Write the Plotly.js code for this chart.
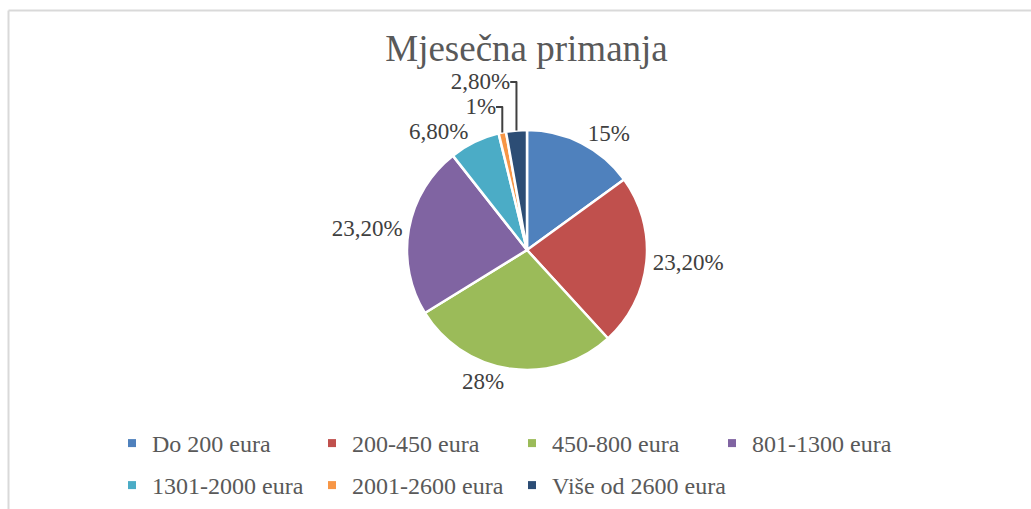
<!DOCTYPE html>
<html>
<head>
<meta charset="utf-8">
<script src="https://cdn.plot.ly/plotly-3.0.1.min.js"></script>
<style>html,body{margin:0;padding:0;background:#fff;}#chart{width:1031px;height:509px;}</style>
</head>
<body>
<div id="chart"></div>
<script>
const categories = ["Do 200 eura", "200-450 eura", "450-800 eura", "801-1300 eura", "1301-2000 eura", "2001-2600 eura", "Više od 2600 eura"];
const shares = [15, 23.2, 28, 23.2, 6.8, 1, 2.8];
const shareLabels = ["15%", "23,20%", "28%", "23,20%", "6,80%", "1%", "2,80%"];
const sliceColors = ["#4F81BD", "#C0504D", "#9BBB59", "#8064A2", "#4BACC6", "#F79646", "#2C4D75"];
const legendGroupOf = ["legend", "legend", "legend", "legend", "legend2", "legend2", "legend3"];

const W = 1031, H = 509;
const SERIF = "'Liberation Serif', 'Times New Roman', serif";

const pie = {
  type: "pie",
  labels: categories,
  values: shares,
  text: shareLabels,
  textinfo: "text",
  textposition: "outside",
  automargin: false,
  sort: false,
  direction: "clockwise",
  rotation: 0,
  showlegend: false,
  marker: {colors: sliceColors, line: {color: "#ffffff", width: 2.5}},
  textfont: {family: SERIF, size: 23, color: "#404040"},
  outsidetextfont: {family: SERIF, size: 23, color: "#404040"},
  domain: {x: [407 / W, 647 / W], y: [1 - 370 / H, 1 - 130 / H]},
  hoverinfo: "none"
};

// legend entries (one per category), drawn by the library's legend
const legendTraces = categories.map((c, i) => ({
  type: "scatter",
  mode: "markers",
  x: [null], y: [null],
  name: c,
  marker: {symbol: "square", size: 8, color: sliceColors[i]},
  showlegend: true,
  legend: legendGroupOf[i],
  hoverinfo: "none"
}));

const legendBase = {
  orientation: "h",
  xanchor: "left",
  yanchor: "top",
  entrywidth: 155, entrywidthmode: "pixels",
  font: {family: SERIF, size: 24, color: "#595959"},
  bgcolor: "rgba(0,0,0,0)",
  borderwidth: 0
};

const layout = {
  width: W, height: H,
  margin: {l: 0, r: 0, t: 0, b: 0},
  paper_bgcolor: "#ffffff",
  plot_bgcolor: "rgba(0,0,0,0)",
  font: {family: SERIF, color: "#595959"},
  xaxis: {visible: false, fixedrange: true},
  yaxis: {visible: false, fixedrange: true},
  title: {
    text: "Mjesečna primanja",
    font: {family: SERIF, size: 37, color: "#595959"},
    x: 526.5 / W, xanchor: "center",
    y: 1 - 48 / H, yanchor: "middle", yref: "container"
  },
  showlegend: true,
  legend: Object.assign({}, legendBase, {x: 112 / W, y: 1 - 421 / H}),
  legend2: Object.assign({}, legendBase, {x: 112 / W, y: 1 - 463 / H}),
  legend3: Object.assign({}, legendBase, {x: 512 / W, y: 1 - 463 / H, entrywidth: 250}),
  shapes: [
    {type: "line", xref: "paper", yref: "paper", x0: 8.5 / W, x1: 1, y0: 1 - 10.5 / H, y1: 1 - 10.5 / H, line: {color: "#d9d9d9", width: 2}},
    {type: "line", xref: "paper", yref: "paper", x0: 8.5 / W, x1: 8.5 / W, y0: 0, y1: 1 - 10.5 / H, line: {color: "#d9d9d9", width: 2}}
  ]
};

Plotly.newPlot("chart", [pie].concat(legendTraces), layout, {displayModeBar: false, staticPlot: true});
</script>
</body>
</html>
